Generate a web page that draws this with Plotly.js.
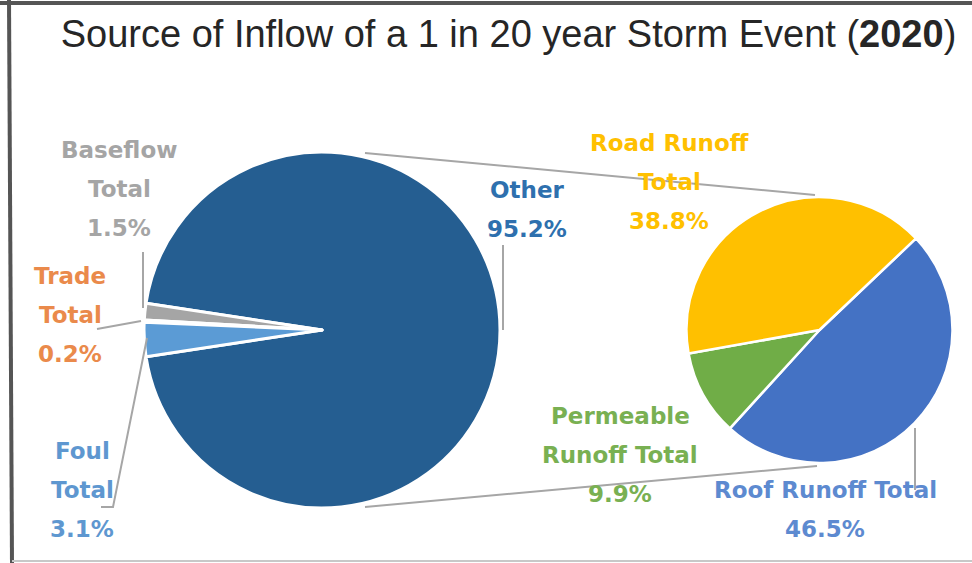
<!DOCTYPE html>
<html>
<head>
<meta charset="utf-8">
<script src="https://cdn.plot.ly/plotly-3.0.1.min.js"></script>
<style>html,body{margin:0;padding:0;background:#fff;}#chart{width:972px;height:563px;}</style>
</head>
<body>
<div id="chart"></div>
<script>
// ---- data ----
const mainLabels = ["Other", "Baseflow Total", "Trade Total", "Foul Total"];
const mainValues = [95.2, 1.5, 0.2, 3.1];
const secLabels = ["Roof Runoff Total", "Permeable Runoff Total", "Road Runoff Total"];
const secValues = [46.5, 9.9, 38.8];

// ---- styling ----
const mainColors = ["#255E91", "#A5A5A5", "#ED7D31", "#5B9BD5"];
const secColors = ["#4472C4", "#70AD47", "#FFC000"];
const mainLabelColors = ["#2E70AE", "#A5A5A5", "#EA8A4B", "#5E97D0"];
const secLabelColors = ["#5D8AD0", "#79B052", "#FFC000"];
// words per line for each label
const mainBreaks = [[1], [1, 1], [1, 1], [1, 1]];
const secBreaks = [[3], [1, 2], [2, 1]];
// label anchor (centre x, first line centre y) in pixels
const mainLabelPos = [[527, 190], [119, 150], [70, 276], [82, 451]];
const secLabelPos = [[825, 490], [620, 416], [669, 143]];
const lineGap = 39;

const W = 972, H = 563;
const px = x => x / W;
const py = y => 1 - y / H;

function wrap(label, breaks) {
  const words = label.split(" ");
  const out = [];
  let i = 0;
  breaks.forEach(n => { out.push(words.slice(i, i + n).join(" ")); i += n; });
  return out;
}

const annotations = [];
function addLabel(label, value, breaks, pos, color) {
  const lines = wrap(label, breaks).concat([value.toFixed(1) + "%"]);
  lines.forEach((t, k) => {
    annotations.push({
      text: t, xref: "paper", yref: "paper",
      x: px(pos[0]), y: py(pos[1] + k * lineGap),
      xanchor: "center", yanchor: "middle", showarrow: false,
      font: {family: "DejaVu Sans", size: 23, color: color, weight: "bold"}
    });
  });
}
mainLabels.forEach((l, i) => addLabel(l, mainValues[i], mainBreaks[i], mainLabelPos[i], mainLabelColors[i]));
secLabels.forEach((l, i) => addLabel(l, secValues[i], secBreaks[i], secLabelPos[i], secLabelColors[i]));

// main pie: "Other" centred facing right
const otherDeg = mainValues[0] / mainValues.reduce((a, b) => a + b, 0) * 360;

const mainCx = 322, mainCy = 330, mainR = 178;
const secCx = 819.5, secCy = 330, secR = 133;

const traces = [
  {
    type: "pie", labels: mainLabels, values: mainValues, sort: false,
    direction: "counterclockwise", rotation: 90 - otherDeg / 2,
    marker: {colors: mainColors, line: {color: "#ffffff", width: 3}},
    textinfo: "none", hoverinfo: "none", showlegend: false,
    domain: {x: [px(mainCx - mainR), px(mainCx + mainR)], y: [py(mainCy + mainR), py(mainCy - mainR)]}
  },
  {
    type: "pie", labels: secLabels, values: secValues, sort: false,
    direction: "clockwise", rotation: 46.5,
    marker: {colors: secColors, line: {color: "#ffffff", width: 2.5}},
    textinfo: "none", hoverinfo: "none", showlegend: false,
    domain: {x: [px(secCx - secR), px(secCx + secR)], y: [py(secCy + secR), py(secCy - secR)]}
  }
];

function seg(pts, color, width) {
  const path = pts.map((p, i) => (i ? "L" : "M") + px(p[0]) + "," + py(p[1])).join(" ");
  return {type: "path", xref: "paper", yref: "paper", path: path, line: {color: color, width: width}};
}
const lineCol = "#A6A6A6";
const shapes = [
  seg([[365, 153], [815, 195]], lineCol, 2),
  seg([[365, 507], [817, 466]], lineCol, 2),
  seg([[503, 245], [503, 330]], lineCol, 2),
  seg([[143, 252], [143, 308]], lineCol, 2),
  seg([[97, 329], [141, 321]], lineCol, 2),
  seg([[147, 338], [113, 507], [101, 507]], lineCol, 2),
  seg([[915, 428], [915, 490]], lineCol, 2),
  // frame
  seg([[0, 3], [972, 3]], "#555555", 4),
  seg([[9, 0], [12, 563]], "#555555", 4),
  seg([[12, 561], [972, 561]], "#C8C8C8", 2)
];

const layout = {
  width: W, height: H,
  margin: {l: 0, r: 0, t: 0, b: 0},
  paper_bgcolor: "#ffffff",
  title: {
    text: "Source of Inflow of a 1 in 20 year Storm Event (<b>2020</b>)",
    font: {family: "Liberation Sans", size: 38, color: "#262626"},
    x: px(508.5), xanchor: "center", xref: "paper",
    y: py(34), yanchor: "middle", yref: "container"
  },
  annotations: annotations,
  shapes: shapes
};

Plotly.newPlot("chart", traces, layout, {staticPlot: true});
</script>
</body>
</html>
